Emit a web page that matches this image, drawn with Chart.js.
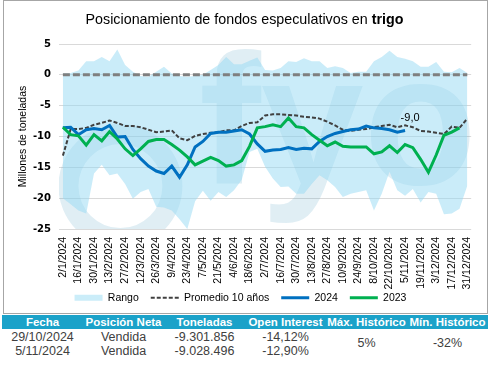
<!DOCTYPE html>
<html>
<head>
<meta charset="utf-8">
<script src="https://cdn.jsdelivr.net/npm/chart.js@4.4.1/dist/chart.umd.min.js"></script>
<style>
  body { margin: 0; background: #fff; width: 489px; height: 365px; position: relative; overflow: hidden; font-family: 'Liberation Sans', Arial, sans-serif; }
  #frame { position: absolute; left: 3px; top: 0; width: 485px; height: 314px; border: 1px solid #a6a6a6; box-sizing: border-box; }
  #chartTitle { position: absolute; left: 0; top: 10px; width: 489px; text-align: center; font-size: 14.3px; line-height: 18px; color: #000; }
  #wrap { position: absolute; left: 1px; top: 1px; width: 483px; height: 311px; }
  .row { position: absolute; left: 2px; width: 486px; height: 14px; }
  .head { top: 315px; background: #1ba2c9; color: #fff; font-weight: bold; font-size: 11.5px; line-height: 14px; }
  .cell { position: absolute; width: 81px; text-align: center; white-space: nowrap; }
  .body { font-size: 12.5px; color: #404040; line-height: 14px; }
</style>
</head>
<body>
<div id="frame">
  <div id="wrap"><canvas id="myChart"></canvas></div>
</div>
<div id="chartTitle">Posicionamiento de fondos especulativos en <b>trigo</b></div>

<div class="row head">
  <div class="cell" style="left:0">Fecha</div>
  <div class="cell" style="left:81px">Posición Neta</div>
  <div class="cell" style="left:162px">Toneladas</div>
  <div class="cell" style="left:243px">Open Interest</div>
  <div class="cell" style="left:324px">Máx. Histórico</div>
  <div class="cell" style="left:405px">Mín. Histórico</div>
</div>
<div class="row body" style="top:330px">
  <div class="cell" style="left:0">29/10/2024</div>
  <div class="cell" style="left:81px">Vendida</div>
  <div class="cell" style="left:162px">-9.301.856</div>
  <div class="cell" style="left:243px">-14,12%</div>
</div>
<div class="row body" style="top:336px">
  <div class="cell" style="left:324px">5%</div>
  <div class="cell" style="left:405px">-32%</div>
</div>
<div class="row body" style="top:343.5px">
  <div class="cell" style="left:0">5/11/2024</div>
  <div class="cell" style="left:81px">Vendida</div>
  <div class="cell" style="left:162px">-9.028.496</div>
  <div class="cell" style="left:243px">-12,90%</div>
</div>

<script>
// semanas (categorías)
const categories = [
    '2/1/2024', '9/1/2024', '16/1/2024', '23/1/2024', '30/1/2024',
    '6/2/2024', '13/2/2024', '20/2/2024', '27/2/2024',
    '5/3/2024', '12/3/2024', '19/3/2024', '26/3/2024',
    '2/4/2024', '9/4/2024', '16/4/2024', '23/4/2024', '30/4/2024',
    '7/5/2024', '14/5/2024', '21/5/2024', '28/5/2024',
    '4/6/2024', '11/6/2024', '18/6/2024', '25/6/2024',
    '2/7/2024', '9/7/2024', '16/7/2024', '23/7/2024', '30/7/2024',
    '6/8/2024', '13/8/2024', '20/8/2024', '27/8/2024',
    '3/9/2024', '10/9/2024', '17/9/2024', '24/9/2024',
    '1/10/2024', '8/10/2024', '15/10/2024', '22/10/2024', '29/10/2024',
    '5/11/2024', '12/11/2024', '19/11/2024', '26/11/2024',
    '3/12/2024', '10/12/2024', '17/12/2024', '24/12/2024', '31/12/2024'
];

// etiquetas visibles del eje x
const tickLabels = [
    '2/1/2024', '16/1/2024', '30/1/2024', '13/2/2024', '27/2/2024', '12/3/2024',
    '26/3/2024', '9/4/2024', '23/4/2024', '7/5/2024', '21/5/2024', '4/6/2024',
    '18/6/2024', '2/7/2024', '16/7/2024', '30/7/2024', '13/8/2024', '27/8/2024',
    '10/9/2024', '24/9/2024', '8/10/2024', '22/10/2024', '5/11/2024', '19/11/2024',
    '3/12/2024', '17/12/2024', '31/12/2024'
];

// Rango (mínimo y máximo histórico), millones de toneladas
const rangeMin = [
    -20.0, -21.0, -22.0, -22.5, -16.0, -14.6, -16.3, -16.0, -17.7, -20.1,
    -19.0, -18.5, -21.4, -21.5, -22.0, -23.4, -25.0, -20.5, -18.8, -20.4,
    -19.0, -19.8, -18.7, -17.0, -12.5, -12.0, -14.9, -16.8, -18.2, -18.1,
    -19.3, -19.3, -17.7, -16.3, -17.1, -18.2, -19.8, -19.3, -19.0, -18.7,
    -22.0, -19.3, -15.7, -18.7, -19.6, -18.5, -20.7, -19.0, -19.3, -22.6,
    -22.5, -21.7, -18.0
];
const rangeMax = [
    0.2, 0.3, 0.7, 2.2, 2.2, 2.9, 2.2, 4.1, 1.6, 0.5,
    -0.2, -0.3, 0.5, 1.3, 0.2, -0.2, -0.3, -0.2, 0.0, 0.8,
    1.6, 2.9, 1.7, 1.7, 2.3, 2.8, 0.8, 0.7, 1.1, 2.2,
    2.1, 2.7, 2.2, 2.2, 1.1, 1.4, 1.1, 0.3, 0.5, 0.5,
    2.2, 2.9, 3.9, 2.9, 2.6, 2.2, 1.3, 1.3, 2.1, 0.5,
    0.4, 1.1, 0.3
];

// Promedio 10 años
const avg10 = [
    -13.1, -8.8, -8.8, -8.6, -8.1, -7.8, -7.4, -7.8, -8.3, -8.3,
    -8.5, -8.9, -9.3, -9.2, -9.0, -10.3, -10.6, -9.9, -9.6, -9.4,
    -9.3, -9.0, -9.0, -8.3, -7.8, -7.7, -6.6, -6.4, -6.4, -6.5,
    -6.6, -6.8, -6.9, -7.1, -7.6, -8.2, -8.9, -9.1, -8.9, -8.8,
    -8.5, -8.3, -8.1, -8.5, -8.2, -8.5, -9.1, -9.2, -9.4, -9.6,
    -8.4, -8.6, -7.1
];

// 2024 (hasta 5/11)
const year2024 = [
    -8.6, -8.5, -9.7, -8.9, -8.7, -8.9, -8.2, -10.1, -10.0, -12.1,
    -13.6, -14.8, -15.6, -16.0, -14.8, -16.6, -14.6, -11.7, -10.8, -9.5,
    -9.3, -9.3, -9.1, -8.9, -9.6, -11.2, -12.4, -12.2, -12.1, -11.8,
    -12.1, -11.9, -12.0, -10.8, -10.0, -9.5, -9.2, -8.9, -8.8, -8.3,
    -8.6, -8.7, -8.9, -9.3, -9.03
];

// 2023
const year2023 = [
    -8.5, -9.7, -9.9, -11.4, -9.7, -10.7, -9.2, -10.4, -12.0, -13.1,
    -12.0, -10.8, -10.5, -10.5, -11.3, -12.2, -13.3, -14.6, -14.0, -13.4,
    -13.9, -14.8, -14.6, -13.9, -11.6, -8.6, -8.4, -8.1, -8.4, -7.0,
    -8.4, -8.6, -9.7, -10.6, -11.5, -10.9, -11.6, -11.7, -11.7, -11.7,
    -12.8, -12.5, -11.5, -12.6, -11.3, -11.8, -13.7, -15.8, -13.0, -9.8,
    -9.3, -8.6
];

// línea de referencia en cero
const zeroLineEnds = ['2/1/2024', '31/12/2024'];
const zeroLevel = 0;

const FONT = "'Liberation Sans', Arial, sans-serif";

// marca de agua detrás de las series
const watermark = {
    id: 'watermark',
    beforeDatasetsDraw(chart) {
        const { ctx, chartArea: a } = chart;
        const w = a.right - a.left;
        const h = a.bottom - a.top;
        ctx.save();
        ctx.beginPath();
        ctx.rect(a.left, a.top, w, h);
        ctx.clip();
        ctx.fillStyle = 'rgba(100, 170, 200, 0.2)';
        ctx.beginPath();
        ctx.arc(a.left + w * 0.149, a.top + h * 0.768, h * 0.335, 0, Math.PI * 2);
        ctx.arc(a.left + w * 0.149, a.top + h * 0.768, h * 0.227, 0, Math.PI * 2, true);
        ctx.fill();
        ctx.font = `bold ${Math.round(h)}px ${FONT}`;
        ctx.textBaseline = 'alphabetic';
        ctx.fillText('fyo', a.left + w * 0.34, a.top + h * 0.757);
        ctx.restore();
    }
};

// las fechas rotadas son más largas que el eje: no recortarlas
const labelRoom = {
    id: 'labelRoom',
    afterLayout(chart) {
        chart.scales.x.bottom = chart.height;
    }
};

// etiqueta del último dato de 2024
const lastLabel = {
    id: 'lastLabel',
    afterDatasetsDraw(chart) {
        const { ctx } = chart;
        chart.data.datasets.forEach((ds, i) => {
            if (!ds.showLastLabel) return;
            const meta = chart.getDatasetMeta(i);
            const pt = meta.data[meta.data.length - 1];
            const v = ds.data[ds.data.length - 1];
            ctx.save();
            ctx.font = `11px ${FONT}`;
            ctx.fillStyle = '#000';
            ctx.textAlign = 'center';
            ctx.textBaseline = 'middle';
            ctx.fillText(v.toFixed(1).replace('.', ','), pt.x + 5, pt.y - 13);
            ctx.restore();
        });
    }
};

const datasets = [
    {
        label: 'min',
        data: rangeMin,
        borderWidth: 0,
        pointRadius: 0,
        fill: false,
        order: 10
    },
    {
        label: 'Rango',
        legendLabel: 'Rango',
        legendFill: '#cbedf9',
        legendOrder: 0,
        data: rangeMax,
        borderWidth: 0,
        borderColor: 'rgba(0,0,0,0)',
        backgroundColor: 'rgba(150, 218, 243, 0.5)',
        pointRadius: 0,
        fill: '-1',
        order: 9
    },
    {
        label: 'cero',
        data: zeroLineEnds.map(d => ({ x: d, y: zeroLevel })),
        borderColor: '#7f7f7f',
        borderWidth: 3,
        borderDash: [7, 3],
        pointRadius: 0,
        fill: false,
        order: 8
    },
    {
        label: 'Promedio 10 años',
        legendLabel: 'Promedio 10 años',
        legendOrder: 1,
        data: avg10,
        borderColor: '#404040',
        borderWidth: 2,
        borderDash: [4, 2],
        pointRadius: 0,
        fill: false,
        order: 7
    },
    {
        label: '2024',
        legendLabel: '2024',
        legendOrder: 2,
        showLastLabel: true,
        data: year2024,
        borderColor: '#0070c0',
        borderWidth: 3,
        pointRadius: 0,
        fill: false,
        order: 6
    },
    {
        label: '2023',
        legendLabel: '2023',
        legendOrder: 3,
        data: year2023,
        borderColor: '#00b050',
        borderWidth: 3,
        pointRadius: 0,
        fill: false,
        order: 5
    }
];

const config = {
    type: 'line',
    data: { labels: categories, datasets: datasets },
    plugins: [watermark, labelRoom, lastLabel],
    options: {
        responsive: true,
        maintainAspectRatio: false,
        animation: false,
        elements: { line: { tension: 0 } },
        layout: { padding: { top: 42, right: 12, left: 0, bottom: 0 } },
        scales: {
            x: {
                offset: true,
                grid: { display: false, drawTicks: false },
                border: { display: false },
                ticks: {
                    autoSkip: false,
                    minRotation: 90,
                    maxRotation: 90,
                    padding: 8,
                    color: '#000',
                    font: { family: FONT, size: 10.5 },
                    callback: (val, idx) => tickLabels.includes(categories[idx]) ? categories[idx] : ''
                },
                afterFit: scale => { scale.height = 51.5; }
            },
            y: {
                min: -25,
                max: 5,
                ticks: {
                    stepSize: 5,
                    padding: 8,
                    color: '#000',
                    font: { family: "'DejaVu Sans', sans-serif", size: 10, weight: 'bold' }
                },
                grid: { color: '#d9d9d9', drawTicks: false },
                border: { display: false },
                title: {
                    display: true,
                    text: 'Millones de toneladas',
                    color: '#000',
                    font: { family: FONT, size: 10.5 },
                    padding: { top: 11.7, bottom: 0 }
                },
                afterFit: scale => { scale.width = 54; }
            }
        },
        plugins: {
            title: { display: false },
            tooltip: { enabled: false },
            legend: {
                position: 'bottom',
                labels: {
                    usePointStyle: true,
                    pointStyleWidth: 28,
                    boxHeight: 6,
                    padding: 12,
                    color: '#262626',
                    font: { family: FONT, size: 10.5 },
                    generateLabels: chart => chart.data.datasets
                        .map((ds, i) => ({ ds, i }))
                        .filter(o => o.ds.legendLabel)
                        .sort((a, b) => a.ds.legendOrder - b.ds.legendOrder)
                        .map(({ ds, i }) => ({
                            text: ds.legendLabel,
                            datasetIndex: i,
                            fillStyle: ds.legendFill || ds.borderColor,
                            strokeStyle: ds.legendFill || ds.borderColor,
                            lineWidth: ds.legendFill ? 0 : ds.borderWidth,
                            lineDash: ds.borderDash || [],
                            pointStyle: ds.legendFill ? 'rect' : 'line',
                            hidden: false
                        }))
                }
            }
        }
    }
};

const myChart = new Chart(document.getElementById('myChart'), config);
</script>
</body>
</html>
